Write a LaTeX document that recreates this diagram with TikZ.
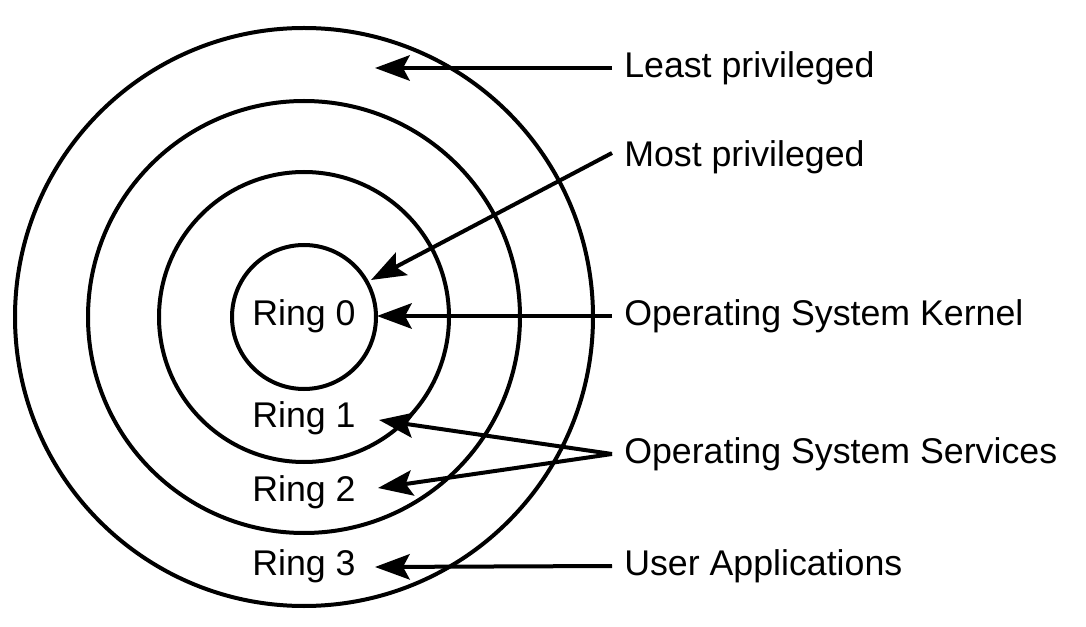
\documentclass[tikz,border=0pt]{standalone}
\usepackage{fontspec}
\setmainfont{Liberation Sans}
\usetikzlibrary{arrows.meta}

\begin{document}
\begin{tikzpicture}[x=0.75pt,y=0.75pt,yscale=-1,xscale=1,
  ring/.style={line width=3pt},
  pointer/.style={line width=3pt,-{Stealth[length=26pt,width=19pt,inset=5pt]}},
  lbl/.style={inner sep=0pt,font=\fontsize{26.8}{32}\selectfont},
  side/.style={lbl,anchor=west,inner xsep=9pt}]
\useasboundingbox (0,0) rectangle (1086,627);

%Shape: Circles
\coordinate (c) at (304,317);
\draw [ring] (c) circle (72);
\draw [ring] (c) circle (145);
\draw [ring] (c) circle (216);
\draw [ring] (c) circle (289);

% Ring Nodes
\node [lbl] (r0) at (304,316) {Ring 0};
\node [lbl] (r1) at (304,418) {Ring 1};
\node [lbl] (r2) at (304,492) {Ring 2};
\node [lbl] (r3) at (304,566) {Ring 3};

% Text Node
\node [side] (least) at (612,68) {Least privileged};
\node [side] (most) at (612,157) {Most privileged};
\node [side] (kern) at (612,316) {Operating System Kernel};
\node [side] (svc) at (612,454) {Operating System Services};
\node [side] (user) at (612,566) {User Applications};

% Tips
\coordinate (tLeast) at (375,68);
\coordinate (tMost) at (371,280);
\coordinate (tKern) at (377,316);
\coordinate (tSvc1) at (379,420);
\coordinate (tSvc2) at (378,488);
\coordinate (tUser) at (375,567);

%Straight Lines
\draw [pointer] (least.west) -- (tLeast);
\draw [pointer] ([yshift=-3]most.west) -- (tMost);
\draw [pointer] (kern.west) -- (tKern);
\draw [pointer] (svc.west) -- (tSvc1);
\draw [pointer] (svc.west) -- (tSvc2);
\draw [pointer] (user.west) -- (tUser);

\end{tikzpicture}
\end{document}
